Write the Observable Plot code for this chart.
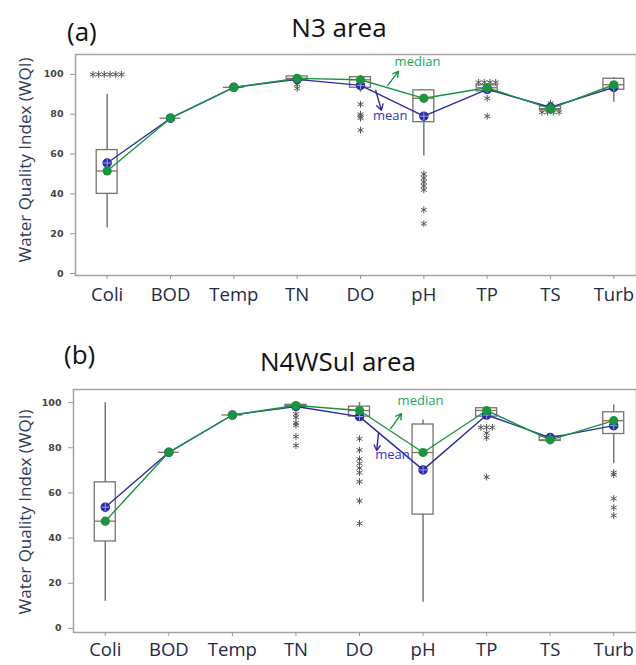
<!DOCTYPE html>
<html>
<head>
<meta charset="utf-8">
<script src="https://cdn.jsdelivr.net/npm/d3@7"></script>
<script src="https://cdn.jsdelivr.net/npm/@observablehq/plot@0.6"></script>
<style>
  html, body { margin: 0; padding: 0; background: #fff; overflow: hidden; }
  #wrap { position: relative; width: 636px; height: 665px; overflow: hidden; font-family: "Open Sans", sans-serif; }
  .panel { position: absolute; left: 0; }
  .lab { position: absolute; font-family: "Open Sans", sans-serif; color: #111; white-space: nowrap; line-height: 1; }
  .ylab { position: absolute; font-family: "Open Sans", sans-serif; font-size: 17px; color: #2c3c5a;
          transform: translate(-50%, -50%) rotate(-90deg); white-space: nowrap; }
</style>
</head>
<body>
<div id="wrap"></div>
<script>
// ---- categories ----
const cats = ["Coli", "BOD", "Temp", "TN", "DO", "pH", "TP", "TS", "Turb"];
const yTicks = [0, 20, 40, 60, 80, 100];

// ---- panel (a) N3 area ----
const aQ1     = [40, 78, 93.5, 97, 93.3, 76, 91.5, 82, 92.3];
const aQ3     = [62, 78, 93.5, 99, 98.6, 92, 94.5, 84, 97.8];
const aMedian = [51.5, 78, 93.5, 98, 97.3, 88, 93.3, 82.8, 94.8];
const aMean   = [55.5, 78, 93.5, 97.5, 94.5, 79, 92.5, 83.5, 93.5];
const aLow    = [23, 78, 93.5, 96.5, 91, 59, 91.5, 82, 86];
const aHigh   = [90, 78, 93.5, 99.5, 99.5, 92, 94.5, 84, 98.5];
const aOutCat = ["Coli","Coli","Coli","Coli","Coli","Coli","TN","TN","DO","DO","DO","DO","DO",
                 "pH","pH","pH","pH","pH","pH","pH","TP","TP","TP","TP","TP","TP","TS","TS","TS","TS","TS"];
const aOutVal = [100,100,100,100,100,100, 95,93, 85,80,79,78,72,
                 50,48,46,44,42,32,25, 96,96,96,96,88,79, 85.5,81,81,81,81];

// ---- panel (b) N4WSul area ----
const bQ1     = [38.5, 78, 94.5, 98, 93.8, 50.4, 93.8, 83, 86.1];
const bQ3     = [64.7, 78, 94.5, 99, 98.2, 90.3, 97.5, 85, 95.7];
const bMedian = [47.5, 78, 94.5, 98.7, 96.5, 77.9, 96.5, 83.5, 92];
const bMean   = [53.7, 78, 94.5, 98.3, 93.8, 70.2, 94.5, 84.5, 89.8];
const bLow    = [12, 78, 94.5, 96.5, 93.8, 11.6, 93.8, 83, 73];
const bHigh   = [100, 78, 94.5, 99.5, 100, 92.3, 97.5, 85, 99];
const bOutCat = ["TN","TN","TN","TN","TN","TN","DO","DO","DO","DO","DO","DO","DO","DO","DO",
                 "TP","TP","TP","TP","TP","TP","Turb","Turb","Turb","Turb","Turb"];
const bOutVal = [95,93.5,91,90,85,81, 84,79,75,73,71,69,65,56.5,46.5,
                 89,89,89,86.5,84.5,67, 69,68,57.5,53.5,50];

// ---- annotation positions (category index, WQI value) ----
const aNotes = {median: [4.9, 106.5], mean: [4.47, 79.4],
  medArrow: [4.43, 94.5, 4.60, 101.5], meanArrow: [4.24, 92, 4.33, 82]};
const bNotes = {median: [4.96, 100.9], mean: [4.52, 77],
  medArrow: [4.49, 88.5, 4.66, 95.1], meanArrow: [4.30, 86.7, 4.27, 78.8]};

const BLUE = "#2b2ba6", GREEN = "#17963f", BOXC = "#7a726c";

function panel(cfg) {
  const boxes = cats.map((c, i) => ({i, q1: cfg.q1[i], q3: cfg.q3[i], med: cfg.med[i], mean: cfg.mean[i], low: cfg.low[i], high: cfg.high[i]}));
  // spread identical outliers horizontally
  const outs = [];
  const groups = d3.group(cfg.outCat.map((c, k) => ({c, v: cfg.outVal[k]})), d => d.c + "|" + d.v);
  for (const [, g] of groups) {
    g.forEach((d, k) => outs.push({x: cats.indexOf(d.c) + (k - (g.length - 1) / 2) * 0.09, y: d.v}));
  }
  const n = cfg.notes;
  const hw = 0.165;
  return Plot.plot({
    width: 636, height: cfg.height,
    marginTop: cfg.mt, marginBottom: cfg.mb, marginLeft: cfg.left, marginRight: 0,
    style: {fontFamily: "Open Sans, sans-serif", background: "transparent", overflow: "visible"},
    x: {domain: [-0.5, 8.5], range: [cfg.left, 645], axis: null},
    y: {domain: cfg.ydom, axis: null},
    marks: [
      Plot.frame({stroke: "#a3a3a3", strokeWidth: 1.5}),
      Plot.axisX({ticks: d3.range(9), tickFormat: i => cats[i], tickSize: 4, tickPadding: cfg.xpad,
                  fontSize: 18.5, stroke: "#999", fill: "#1f2a44", fontFamily: "Open Sans, sans-serif"}),
      Plot.axisY({ticks: yTicks, tickSize: 5, tickPadding: 7, fontSize: 9.5, fontWeight: "bold",
                  stroke: "#999", fill: "#444", fontFamily: "DejaVu Sans, sans-serif"}),
      Plot.ruleX(boxes, {x: "i", y1: "low", y2: "q1", stroke: "#777", strokeWidth: 1.5}),
      Plot.ruleX(boxes, {x: "i", y1: "q3", y2: "high", stroke: "#777", strokeWidth: 1.5}),
      Plot.rect(boxes.filter(d => d.q3 > d.q1), {x1: d => d.i - hw, x2: d => d.i + hw, y1: "q1", y2: "q3",
                  fill: "white", stroke: BOXC, strokeWidth: 1.3}),
      Plot.ruleY(boxes, {y: "med", x1: d => d.i - hw, x2: d => d.i + hw, stroke: "#9a6a55", strokeWidth: 1.3}),
      Plot.dot(outs, {x: "x", y: "y", symbol: "asterisk", r: 3.2, stroke: "#555", strokeWidth: 1}),
      Plot.line(boxes, {x: "i", y: "mean", stroke: BLUE, strokeWidth: 1.4}),
      Plot.line(boxes, {x: "i", y: "med", stroke: GREEN, strokeWidth: 1.4}),
      Plot.dot(boxes, {x: "i", y: "mean", r: 4, fill: BLUE, stroke: BLUE}),
      Plot.dot(boxes, {x: "i", y: "mean", symbol: "plus", r: 2.6, stroke: "#9aa0ff", strokeWidth: 1}),
      Plot.dot(boxes, {x: "i", y: "med", r: 4.6, fill: GREEN}),
      Plot.arrow([n.medArrow], {x1: d => d[0], y1: d => d[1], x2: d => d[2], y2: d => d[3],
                  stroke: GREEN, strokeWidth: 1.4, headLength: 7}),
      Plot.arrow([n.meanArrow], {x1: d => d[0], y1: d => d[1], x2: d => d[2], y2: d => d[3],
                  stroke: BLUE, strokeWidth: 1.4, headLength: 7}),
      Plot.text([n.median], {x: d => d[0], y: d => d[1], text: () => "median", fill: "#22a65a", fontSize: 13}),
      Plot.text([n.mean], {x: d => d[0], y: d => d[1], text: () => "mean", fill: "#3434c4", fontSize: 13})
    ]
  });
}

const wrap = document.getElementById("wrap");
function place(el, top) { el.classList.add("panel"); el.style.top = top + "px"; wrap.appendChild(el); }

place(panel({q1: aQ1, q3: aQ3, med: aMedian, mean: aMean, low: aLow, high: aHigh,
  outCat: aOutCat, outVal: aOutVal, notes: aNotes,
  height: 320, mt: 54, mb: 45, left: 75, ydom: [-1, 110], xpad: 8}), 0);
place(panel({q1: bQ1, q3: bQ3, med: bMedian, mean: bMean, low: bLow, high: bHigh,
  outCat: bOutCat, outVal: bOutVal, notes: bNotes,
  height: 335, mt: 59, mb: 33, left: 73, ydom: [-1.8, 105.8], xpad: 6}), 330);

function label(text, cls, css) {
  const d = document.createElement("div");
  d.className = cls; d.textContent = text;
  Object.assign(d.style, css);
  wrap.appendChild(d);
}
label("(a)", "lab", {left: "67px", top: "18px", fontSize: "26px"});
label("N3 area", "lab", {left: "339px", top: "14px", fontSize: "26px", transform: "translateX(-50%)"});
label("(b)", "lab", {left: "64px", top: "341px", fontSize: "26px"});
label("N4WSul area", "lab", {left: "338px", top: "348px", fontSize: "26px", transform: "translateX(-50%)"});
label("Water Quality Index (WQI)", "ylab", {left: "24px", top: "160px"});
label("Water Quality Index (WQI)", "ylab", {left: "24px", top: "512px"});
</script>
</body>
</html>
